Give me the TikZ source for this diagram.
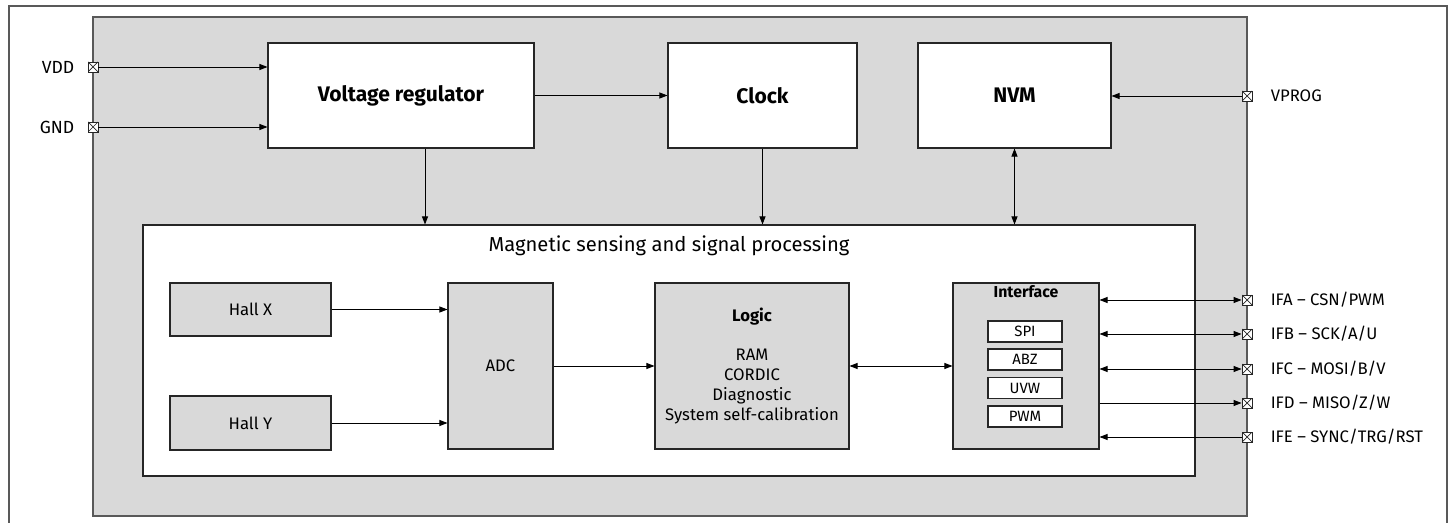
\documentclass[tikz,border=0pt]{standalone}
\usepackage{fontspec}
\setmainfont{Fira Sans}
\usetikzlibrary{arrows.meta,calc,positioning}
\definecolor{chipgray}{HTML}{D9D9D9}
\tikzset{
  blk/.style={draw=black!85, line width=0.6pt, fill=white, inner sep=0pt},
  sub/.style={blk, fill=chipgray},
  sz/.style 2 args={minimum width=#1*0.02cm, minimum height=#2*0.02cm},
  iopad/.style={draw=black!85, fill=white, line width=0.5pt, minimum size=0.2cm, inner sep=0pt,
    path picture={\draw[line width=0.4pt]
      (path picture bounding box.south west) -- (path picture bounding box.north east)
      (path picture bounding box.north west) -- (path picture bounding box.south east);}},
  tip/.tip={Triangle[length=0.16cm,width=0.12cm]},
  arr/.style={-tip, line width=0.5pt},
  darr/.style={tip-tip, line width=0.5pt},
  lbl/.style={inner sep=0pt, font=\fontsize{9.5}{11}\selectfont},
  txt/.style={font=\fontsize{9.5}{11.3}\selectfont},
  small/.style={font=\fontsize{8.5}{10}\selectfont},
  head/.style={font=\bfseries\fontsize{12}{14}\selectfont},
}
\begin{document}
\begin{tikzpicture}[x=0.02cm, y=-0.02cm]
  \useasboundingbox (0,0) rectangle (1454,523);
  \clip (0,0) rectangle (1454,523);
  % frame and chip
  \draw[black!65, line width=0.8pt] (9,6) rectangle (1447,540);
  \draw[black!65, line width=0.8pt, fill=chipgray] (93,17) rectangle (1247,516);

  % top row
  \node[blk, sz={266}{105}, head] (vreg) at (401,95.5) {Voltage regulator};
  \node[blk, sz={189}{105}, head] (clock) at (762.5,95.5) {Clock};
  \node[blk, sz={193}{105}, head] (nvm) at (1014.5,95.5) {NVM};

  % sensing block
  \node[blk, sz={1052}{251}] (msp) at (669,350.5) {};
  \node[font=\fontsize{11.5}{13}\selectfont] (msptitle) at (669,246) {Magnetic sensing and signal processing};
  \node[sub, sz={161}{53}, txt] (hallx) at (250.5,309.5) {Hall X};
  \node[sub, sz={161}{54}, txt] (hally) at (250.5,423) {Hall Y};
  \node[sub, sz={105}{166}, txt] (adc) at (500.5,366) {ADC};
  \node[sub, sz={194}{166}, txt, align=center] (logic) at (752,366)
    {\textbf{Logic}\\[11pt]RAM\\CORDIC\\Diagnostic\\System self-calibration};
  \node[sub, sz={146}{166}] (intf) at (1026,366) {};
  \node[font=\bfseries\fontsize{9}{11}\selectfont] (intftitle) at (1026,292) {Interface};
  \node[blk, sz={74}{21}, small] (spi) at (1025,331.5) {SPI};
  \node[blk, sz={74}{21}, small] (abz) at (1025,359.5) {ABZ};
  \node[blk, sz={74}{21}, small] (uvw) at (1025,388) {UVW};
  \node[blk, sz={74}{21}, small] (pwm) at (1025,416.5) {PWM};

  % pads
  \node[iopad] (vdd) at (93,67) {};
  \node[iopad] (gnd) at (93,127) {};
  \node[iopad] (vprog) at (1247,96) {};
  \node[iopad] (ifa) at (1247,300) {};
  \node[iopad] (ifb) at (1247,334) {};
  \node[iopad] (ifc) at (1247,369) {};
  \node[iopad] (ifd) at (1247,403) {};
  \node[iopad] (ife) at (1247,437) {};
  \node[lbl, left=0.26cm of vdd, font=\fontsize{10}{12}\selectfont] (vddl) {VDD};
  \node[lbl, left=0.26cm of gnd, font=\fontsize{10}{12}\selectfont] (gndl) {GND};
  \node[lbl, right=0.36cm of vprog] (vprogl) {VPROG};
  \node[lbl, right=0.36cm of ifa] (ifal) {IFA -- CSN/PWM};
  \node[lbl, right=0.36cm of ifb] (ifbl) {IFB -- SCK/A/U};
  \node[lbl, right=0.36cm of ifc] (ifcl) {IFC -- MOSI/B/V};
  \node[lbl, right=0.36cm of ifd] (ifdl) {IFD -- MISO/Z/W};
  \node[lbl, right=0.36cm of ife] (ifel) {IFE -- SYNC/TRG/RST};

  % connections
  \draw[arr] (vdd) -- (vdd -| vreg.west);
  \draw[arr] (gnd) -- (gnd -| vreg.west);
  \draw[arr] (vreg.east) -- (clock.west);
  \draw[arr] (vprog) -- (vprog -| nvm.east);
  \draw[arr] ($(vreg.south)+(24,0)$) coordinate (vregout) -- (vregout |- msp.north);
  \draw[arr] (clock.south) -- (clock.south |- msp.north);
  \draw[darr] (nvm.south) -- (nvm.south |- msp.north);
  \draw[arr] (hallx.east) -- (hallx.east -| adc.west);
  \draw[arr] (hally.east) -- (hally.east -| adc.west);
  \draw[arr] (adc.east) -- (logic.west);
  \draw[darr] (logic.east) -- (intf.west);
  \draw[darr] (intf.east |- ifa) -- (ifa);
  \draw[darr] (intf.east |- ifb) -- (ifb);
  \draw[darr] (intf.east |- ifc) -- (ifc);
  \draw[arr] (intf.east |- ifd) -- (ifd);
  \draw[arr] (ife) -- (ife -| intf.east);
\end{tikzpicture}
\end{document}
